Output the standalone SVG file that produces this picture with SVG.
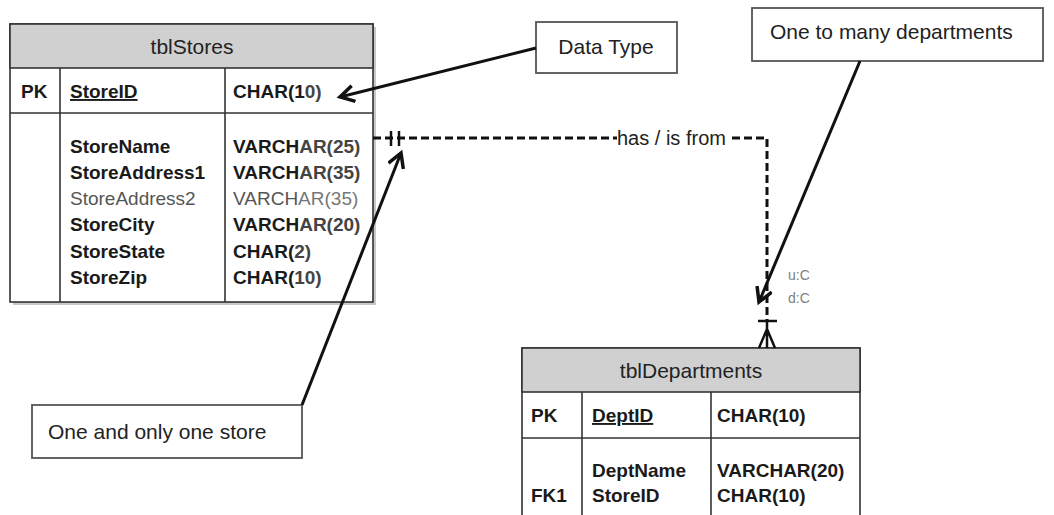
<svg xmlns="http://www.w3.org/2000/svg" width="1054" height="515" viewBox="0 0 1054 515">
<style>
.frame{fill:#ffffff;stroke:#333333;stroke-width:1.6}
.hdr{fill:#d0d0d0;stroke:#333333;stroke-width:1.6}
.sep{stroke:#333333;stroke-width:1.6;fill:none}
.shadow{fill:#c8c8c8}
.title{font-family:"Liberation Sans",Arial,sans-serif;font-size:21px;fill:#222222;text-anchor:middle}
.f{font-family:"Liberation Sans",Arial,sans-serif;font-size:19px;font-weight:bold;fill:#1a1a1a}
.fl{font-family:"Liberation Sans",Arial,sans-serif;font-size:19px;fill:#555555}
.lt{fill:#444444}
.box{fill:#ffffff;stroke:#555555;stroke-width:1.8}
.note{font-family:"Liberation Sans",Arial,sans-serif;font-size:21px;fill:#222222}
.rel{stroke:#111111;stroke-width:3;fill:none;stroke-dasharray:8 4}
.solid{stroke:#111111;stroke-width:2.5;fill:none}
.arrow{stroke:#111111;stroke-width:3;fill:none;marker-end:url(#ah)}
.card{font-family:"Liberation Sans",Arial,sans-serif;font-size:14px;fill:#808080}
.lbl{font-family:"Liberation Sans",Arial,sans-serif;font-size:20px;fill:#222222}
</style>
<defs>
<marker id="ah" markerUnits="userSpaceOnUse" markerWidth="20" markerHeight="20" refX="15" refY="9" orient="auto">
<path d="M1,1 L15,9 L1,17" fill="none" stroke="#111111" stroke-width="3.5" stroke-linejoin="miter"/>
</marker>
</defs>
<rect width="1054" height="515" fill="#ffffff"/>

<g id="tblStores">
<rect class="shadow" x="13" y="27" width="363" height="278"/>
<rect class="frame" x="10" y="24" width="363" height="278"/>
<rect class="hdr" x="10" y="24" width="363" height="44"/>
<line class="sep" x1="10" y1="113" x2="373" y2="113"/>
<line class="sep" x1="60" y1="68" x2="60" y2="302"/>
<line class="sep" x1="225" y1="68" x2="225" y2="302"/>
<text class="title" x="192" y="54">tblStores</text>
<text class="f" x="21" y="98">PK</text>
<text class="f" x="70" y="98" text-decoration="underline">StoreID</text>
<text class="f" x="233" y="98">CHAR(1<tspan class="lt">0)</tspan></text>
<text class="f" x="70" y="153">StoreName</text>
<text class="f" x="70" y="179">StoreAddress1</text>
<text class="fl" x="70" y="205">StoreAddress2</text>
<text class="f" x="70" y="231">StoreCity</text>
<text class="f" x="70" y="258">StoreState</text>
<text class="f" x="70" y="284">StoreZip</text>
<text class="f" x="233" y="153">VARCH<tspan class="lt">AR(25)</tspan></text>
<text class="f" x="233" y="179">VARCH<tspan class="lt">AR(35)</tspan></text>
<text class="fl" x="233" y="205">VARCH<tspan fill="#777777">AR(35)</tspan></text>
<text class="f" x="233" y="231">VARCH<tspan class="lt">AR(20)</tspan></text>
<text class="f" x="233" y="258">CHAR(<tspan class="lt">2)</tspan></text>
<text class="f" x="233" y="284">CHAR(<tspan class="lt">10)</tspan></text>
</g>

<g id="tblDepartments">
<rect class="frame" x="522" y="348" width="338" height="180"/>
<rect class="hdr" x="522" y="348" width="338" height="44"/>
<line class="sep" x1="522" y1="438" x2="860" y2="438"/>
<line class="sep" x1="582" y1="392" x2="582" y2="520"/>
<line class="sep" x1="711" y1="392" x2="711" y2="520"/>
<text class="title" x="691" y="378">tblDepartments</text>
<text class="f" x="531" y="422">PK</text>
<text class="f" x="592" y="422" text-decoration="underline">DeptID</text>
<text class="f" x="717" y="422">CHAR(10)</text>
<text class="f" x="592" y="477">DeptName</text>
<text class="f" x="531" y="502">FK1</text>
<text class="f" x="592" y="502">StoreID</text>
<text class="f" x="717" y="477">VARCHAR(20)</text>
<text class="f" x="717" y="502">CHAR(10)</text>
</g>

<g id="note-datatype">
<rect class="box" x="536" y="22" width="141" height="51"/>
<text class="note" x="606" y="54" text-anchor="middle">Data Type</text>
</g>

<g id="note-onetomany">
<rect class="box" x="752" y="8" width="291" height="53"/>
<text class="note" x="770" y="39">One to many departments</text>
</g>

<g id="note-oneandonly">
<rect class="box" x="32" y="405" width="270" height="53"/>
<text class="note" x="48" y="439">One and only one store</text>
</g>

<g id="connectors">
<path class="rel" d="M373,138 H617"/>
<path class="rel" d="M732,138 H767 V321"/>
<line class="solid" x1="391" y1="131" x2="391" y2="146"/>
<line class="solid" x1="399" y1="131" x2="399" y2="146"/>
<text class="lbl" x="617" y="145">has / is from</text>
<line class="solid" x1="758" y1="321" x2="777" y2="321"/>
<path class="solid" d="M767,321 V348 M767,329 L759,348 M767,329 L775,348"/>
<text class="card" x="788" y="280">u:C</text>
<text class="card" x="788" y="303">d:C</text>
<line class="arrow" x1="536" y1="48" x2="340" y2="97"/>
<line class="arrow" x1="860" y1="61" x2="759" y2="302"/>
<line class="arrow" x1="302" y1="405" x2="401" y2="153"/>
</g>
</svg>
